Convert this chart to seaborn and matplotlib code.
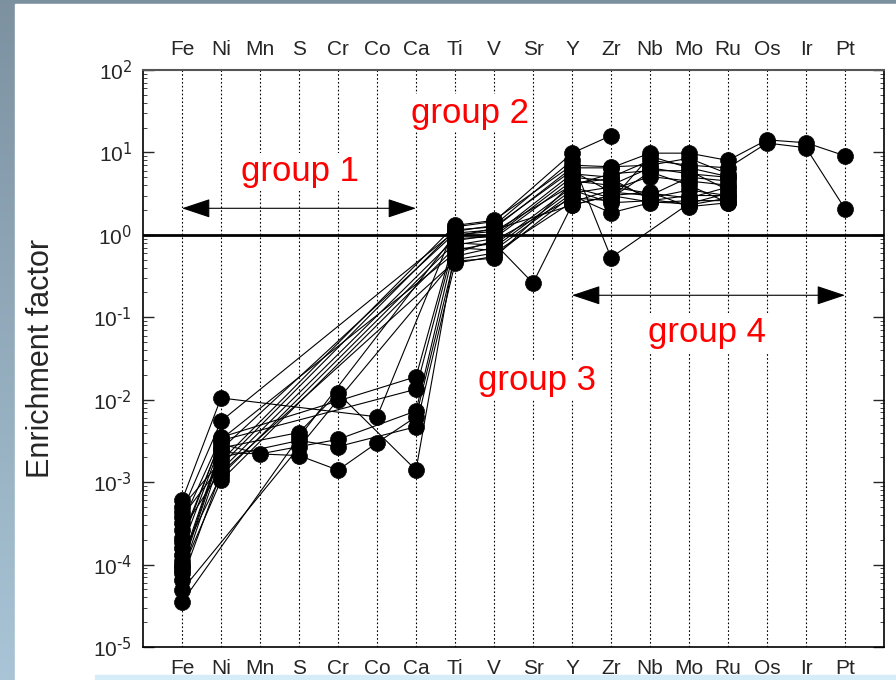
import numpy as np
import pandas as pd
import matplotlib
matplotlib.use("Agg")
import matplotlib.pyplot as plt
from matplotlib.patches import Rectangle
from matplotlib.ticker import FixedLocator, FuncFormatter, LogLocator, NullFormatter
import seaborn as sns

nan = np.nan

# elementos en el eje x
elements = ["Fe", "Ni", "Mn", "S", "Cr", "Co", "Ca", "Ti", "V", "Sr",
            "Y", "Zr", "Nb", "Mo", "Ru", "Os", "Ir", "Pt"]

# factores de enriquecimiento por muestra (Fe ... Pt), nan = sin dato
s01 = [6.0e-4, 1.05e-2, nan, nan, nan, 6.2e-3, nan, 1.25, 1.45, nan, 9.8, 16.0, nan, nan, nan, nan, nan, nan]
s02 = [4.4e-4, 5.5e-3, nan, nan, nan, nan, nan, 1.1, 1.3, nan, 8.0, 0.53, nan, 2.4, nan, nan, nan, nan]
s03 = [3.2e-4, 3.5e-3, nan, nan, nan, nan, 1.9e-2, 0.95, 1.2, nan, 6.5, 6.5, 9.8, 9.8, 8.0, 14.2, 13.1, 9.1]
s04 = [2.1e-4, 3.2e-3, nan, nan, nan, nan, 1.34e-2, 0.85, 1.0, nan, 5.5, 5.0, 8.0, 7.0, 6.5, 13.0, 11.4, 2.07]
s05 = [1.6e-4, 2.9e-3, 2.2e-3, 2.7e-3, 3.3e-3, nan, 7.3e-3, 0.75, 0.9, nan, 4.5, 4.0, 6.5, 5.5, 5.0, nan, nan, nan]
s06 = [1.1e-4, 2.6e-3, nan, 4.0e-3, 1.2e-2, nan, 1.4e-3, 0.65, 0.8, 0.26, 2.3, 3.0, 3.3, 2.2, 2.45, nan, nan, nan]
s07 = [9.3e-5, 2.3e-3, nan, 2.1e-3, 1.4e-3, 3.0e-3, 6.2e-3, 0.55, 0.7, nan, 3.5, 2.45, 2.6, 3.0, 3.0, nan, nan, nan]
s08 = [7.9e-5, 2.0e-3, nan, 3.2e-3, 2.7e-3, nan, 4.7e-3, 0.45, 0.55, nan, 3.0, 1.85, 2.45, 2.6, 2.6, nan, nan, nan]
s09 = [4.9e-5, nan, nan, nan, 1.0e-2, nan, nan, 0.5, 0.6, nan, 2.5, 3.5, 5.1, 4.5, 4.0, nan, nan, nan]
s10 = [3.5e-5, nan, nan, 3.5e-3, nan, nan, nan, 1.0, 1.1, nan, 4.0, 5.5, 6.0, 6.0, 3.5, nan, nan, nan]
s11 = [5.0e-4, 1.8e-3, nan, nan, nan, nan, nan, 1.3, 1.5, nan, 7.0, 6.7, 7.0, 8.5, 5.5, nan, nan, nan]
s12 = [3.8e-4, 1.6e-3, nan, nan, nan, nan, nan, 1.15, 1.25, nan, 6.0, 3.3, 3.0, 5.0, 4.5, nan, nan, nan]
s13 = [2.6e-4, 1.4e-3, nan, nan, nan, nan, nan, 0.9, 0.95, nan, 5.0, 4.5, 2.8, 3.5, 3.0, nan, nan, nan]
s14 = [1.3e-4, 1.2e-3, nan, nan, nan, nan, nan, 0.8, 0.75, nan, 3.8, 2.8, 5.8, 4.0, 2.45, nan, nan, nan]
s15 = [8.5e-5, 1.05e-3, nan, nan, nan, nan, nan, 0.7, 0.65, nan, 3.2, 3.8, 3.2, 2.8, 3.8, nan, nan, nan]
s16 = [1.9e-4, 3.3e-3, nan, nan, nan, nan, nan, 0.6, 0.85, nan, 2.8, 2.6, 9.0, 6.5, 5.1, nan, nan, nan]
s17 = [1.0e-4, 2.5e-3, nan, nan, nan, nan, nan, 1.05, 1.15, nan, 2.3, 3.0, 2.5, 2.4, 3.2, nan, nan, nan]
s18 = [6.5e-5, 1.3e-3, nan, nan, nan, nan, nan, 0.48, 0.52, nan, 4.2, 4.8, 2.7, 2.3, 2.8, nan, nan, nan]

samples = [s01, s02, s03, s04, s05, s06, s07, s08, s09, s10,
           s11, s12, s13, s14, s15, s16, s17, s18]

# marcas del eje y (decadas)
y_decades = [-5, -4, -3, -2, -1, 0, 1, 2]

rows = []
for i, s in enumerate(samples):
    for j, v in enumerate(s):
        if not np.isnan(v):
            rows.append({"sample": i, "pos": j, "value": v})
data = pd.DataFrame(rows)

sns.set_style("white")
plt.rcParams["font.family"] = ["Liberation Sans", "DejaVu Sans"]
plt.rcParams["mathtext.default"] = "regular"

fig = plt.figure(figsize=(8.96, 6.8), dpi=100)

# fondo con degradado azul-gris y panel blanco
bg = fig.add_axes([0, 0, 1, 1], zorder=-10)
bg.set_axis_off()
top_c = np.array([0.49, 0.57, 0.63])
bot_c = np.array([0.66, 0.77, 0.84])
t = np.linspace(0, 1, 200)[:, None]
grad = (top_c * (1 - t) + bot_c * t)[:, None, :].repeat(2, axis=1)
bg.imshow(grad, extent=[0, 1, 0, 1], aspect="auto", origin="upper")
bg.add_patch(Rectangle((15 / 896, 0), 1, 676 / 680, color="white", transform=bg.transAxes))
bg.add_patch(Rectangle((95 / 896, 0), 1, 5 / 680, color="#d6ecf8", transform=bg.transAxes))
bg.set_xlim(0, 1)
bg.set_ylim(0, 1)

ax = fig.add_axes([143 / 896, 1 - 647 / 680, 741 / 896, 577 / 680])
ax.set_facecolor("none")

# lineas verticales punteadas
for j in range(len(elements)):
    ax.axvline(j, color="black", ls=(0, (1.5, 2)), lw=0.8, zorder=1)

ax.axhline(1, color="black", lw=2, zorder=3)

sns.lineplot(data=data, x="pos", y="value", units="sample", estimator=None,
             sort=False, color="black", lw=0.8, marker="o", markersize=11.5,
             markeredgecolor="black", markeredgewidth=0.5, ax=ax, zorder=4)

ax.set_yscale("log")
ax.set_ylim(1e-5, 1e2)
ax.set_xlim(-1, 18)
ax.yaxis.set_major_locator(FixedLocator([10.0 ** d for d in y_decades]))
ax.yaxis.set_major_formatter(FuncFormatter(
    lambda v, p: r"$10^{\text{%s}}$" % str(int(round(np.log10(v)))).replace("-", "-")))
ax.yaxis.set_minor_locator(LogLocator(base=10, subs=np.arange(2, 10), numticks=100))
ax.yaxis.set_minor_formatter(NullFormatter())

ax.set_xticks(range(len(elements)))
ax.set_xticklabels(elements)
ax.tick_params(axis="x", length=0, labelsize=15, pad=9)
ax.tick_params(axis="y", which="major", direction="in", length=8, width=1,
               left=True, right=True, labelsize=15, pad=8)
ax.tick_params(axis="y", which="minor", direction="in", length=3, width=0.6,
               left=True, right=True)

top = ax.secondary_xaxis("top")
top.set_xticks(range(len(elements)))
top.set_xticklabels(elements)
top.tick_params(length=0, labelsize=15, pad=8)
top.spines["top"].set_visible(False)

for sp in ax.spines.values():
    sp.set_color("black")
    sp.set_linewidth(1.2)
ax.spines["top"].set_color("#555555")
ax.spines["top"].set_linewidth(1.5)

ax.set_xlabel("")
ax.set_ylabel("Enrichment factor", fontsize=22)
ax.yaxis.set_label_coords(-0.118, 0.5)

# textos de grupos
box = dict(facecolor="white", edgecolor="none", pad=2)
ax.text(3.03, 5.8, "group 1", color="red", fontsize=25, ha="center", va="center", bbox=box, zorder=2)
ax.text(7.38, 30, "group 2", color="red", fontsize=25, ha="center", va="center", bbox=box, zorder=2)
ax.text(9.1, 0.017, "group 3", color="red", fontsize=25, ha="center", va="center", bbox=box, zorder=2)
ax.text(13.46, 0.065, "group 4", color="red", fontsize=25, ha="center", va="center", bbox=box, zorder=2)

# flechas
arrow = dict(arrowstyle="<|-|>,head_length=0.9,head_width=0.3", color="black",
             lw=0.8, shrinkA=0, shrinkB=0, mutation_scale=20)
ax.annotate("", xy=(0, 2.1), xytext=(6, 2.1), arrowprops=arrow, zorder=3)
ax.annotate("", xy=(10, 0.185), xytext=(17, 0.185), arrowprops=arrow, zorder=3)

fig.savefig("out.png", dpi=100)
